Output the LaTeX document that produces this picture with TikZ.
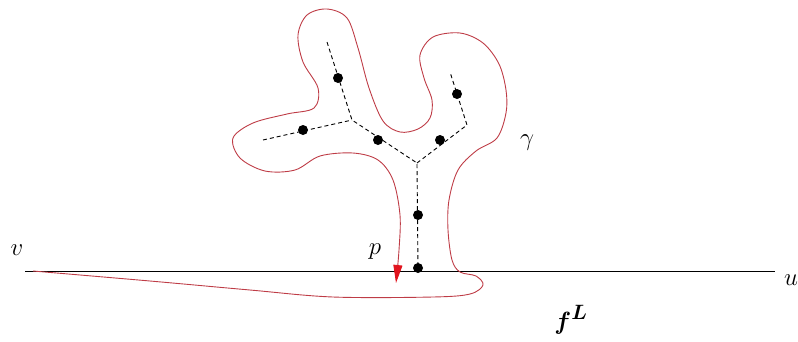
\documentclass[tikz,border=0pt]{standalone}
\usepackage{bm}
\usetikzlibrary{arrows.meta}
\definecolor{curvered}{RGB}{190,60,70}
\definecolor{arrowred}{RGB}{225,20,30}
\tikzset{
  dot/.style={circle,fill=black,inner sep=0pt,minimum size=10pt},
  tree/.style={dashed,dash pattern=on 4pt off 3pt,line width=0.9pt},
  lbl/.style={font=\fontsize{28}{32}\selectfont,inner sep=0pt,anchor=base},
  gamma/.style={curvered,line width=0.9pt}
}
\begin{document}
\begin{tikzpicture}[x=1pt,y=-1pt]
\useasboundingbox (0,0) rectangle (798,341);
% base line
\coordinate (L) at (25,271);
\coordinate (R) at (775,271);
\draw[line width=1pt] (L) -- (R);
% tree
\coordinate (j1) at (352,120);
\coordinate (j2) at (417,163);
\coordinate (e1) at (327,42);
\coordinate (e2) at (263,140);
\coordinate (c3) at (467,125);
\coordinate (e3) at (450,72);
\node[dot] (d1) at (338,78) {};
\node[dot] (d2) at (303,130) {};
\node[dot] (d3) at (378,140) {};
\node[dot] (d4) at (440,140) {};
\node[dot] (d5) at (457,94) {};
\node[dot] (d6) at (418,215) {};
\node[dot] (d7) at (418,268) {};
\draw[tree] (e1) -- (j1) -- (j2) -- (d7.center);
\draw[tree] (e2) -- (j1);
\draw[tree] (j2) -- (c3) -- (e3);
% curve gamma
\draw[gamma,-{Triangle[length=18pt,width=9pt,color=arrowred]}] plot[smooth,tension=0.55] coordinates {
(33,271) (150,281) (250,290) (333,297) (433,297) (470,294) (483,285) (476,276) (460,272)
(452,260) (448,230) (449,200) (458,170) (476,151) (497,138) (506,113) (506,90) (499,64)
(483,43) (460,33) (433,37) (420,55) (424,78) (432,100) (430,118) (418,129) (400,132)
(383,121) (369,88) (358,48) (347,18) (327,9) (307,15) (298,35) (303,62) (318,88)
(314,108) (287,114) (253,123) (233,138) (240,158) (265,171) (295,170) (320,156)
(353,153) (378,160) (393,180) (400,215) (399,250) (396,283)};
% labels
\node[lbl] (v) at (17,255) {$v$};
\node[lbl,anchor=base west] (u) at (784,285) {$u$};
\node[lbl] (p) at (375,254) {$p$};
\node[lbl] (g) at (527,145) {$\gamma$};
\node[lbl,font=\fontsize{32}{36}\selectfont] (fL) at (571,329) {$\bm{f^{L}}$};
\end{tikzpicture}
\end{document}
